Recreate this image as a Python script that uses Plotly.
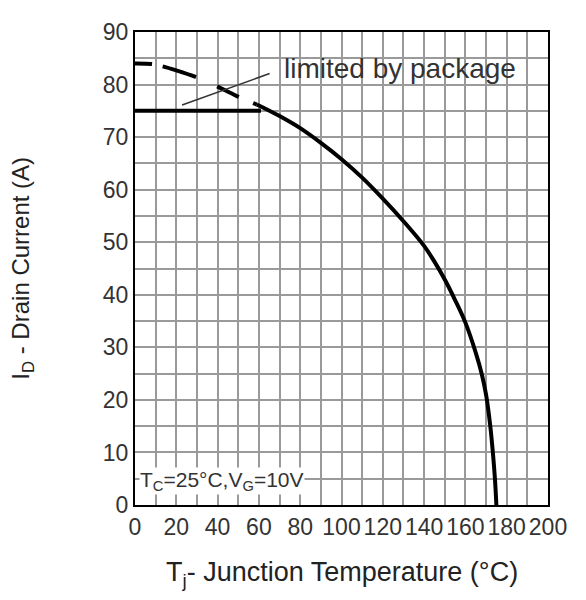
import plotly.graph_objects as go

# Silicon-limited derating curve (dashed part, then solid part)
sil_dash_T = [0, 8, 13, 20, 29, 40, 51, 59]
sil_dash_I = [84, 83.9, 83.5, 82.7, 81.5, 79.6, 77.5, 76.2]
sil_solid_T = [59, 70, 80, 90, 100, 110, 120, 130, 140, 145, 150, 155, 160, 165, 168, 170, 172, 173.3, 174.3, 175]
sil_solid_I = [76.2, 74.0, 71.7, 68.9, 65.8, 62.3, 58.3, 54.0, 49.3, 46.3, 42.9, 39.0, 34.7, 29.0, 24.8, 21.0, 15.2, 10.0, 5.0, 0]

# Package limit
pkg_T = [0, 61]
pkg_I = [75, 75]

# Leader line for the "limited by package" note
lead_T = [22.8, 65.2]
lead_I = [76.1, 82.1]

x_ticks = [0, 20, 40, 60, 80, 100, 120, 140, 160, 180, 200]
y_ticks = [0, 10, 20, 30, 40, 50, 60, 70, 80, 90]

FONT = "Liberation Sans, Arial, sans-serif"

fig = go.Figure()
fig.add_trace(go.Scatter(x=sil_dash_T, y=sil_dash_I, mode="lines",
                         line=dict(color="black", width=4,
                                   dash="17px,11px,35px,23px,24px,16px,300px",
                                   shape="spline", smoothing=1.0),
                         showlegend=False, hoverinfo="skip"))
fig.add_trace(go.Scatter(x=sil_solid_T, y=sil_solid_I, mode="lines",
                         line=dict(color="black", width=4, shape="spline", smoothing=1.0),
                         showlegend=False, hoverinfo="skip"))
fig.add_trace(go.Scatter(x=pkg_T, y=pkg_I, mode="lines",
                         line=dict(color="black", width=4),
                         showlegend=False, hoverinfo="skip"))
fig.add_trace(go.Scatter(x=lead_T, y=lead_I, mode="lines",
                         line=dict(color="#333333", width=1.5),
                         showlegend=False, hoverinfo="skip"))

fig.update_layout(
    width=570, height=584,
    margin=dict(l=127, r=25, t=11, b=87),
    paper_bgcolor="white", plot_bgcolor="white",
    font=dict(family=FONT, size=23, color="#333333"),
    xaxis=dict(range=[0, 200], tickvals=x_ticks, ticktext=[str(v) for v in x_ticks],
               showgrid=True, gridcolor="#9a9a9a", gridwidth=1.5,
               minor=dict(dtick=10, showgrid=True, gridcolor="#9a9a9a", gridwidth=1.5),
               showline=True, linecolor="black", linewidth=2, mirror=True,
               zeroline=False, ticks="", tickfont=dict(size=23, color="#333333")),
    yaxis=dict(range=[0, 90], tickvals=y_ticks, ticktext=[str(v) for v in y_ticks],
               showgrid=True, gridcolor="#9a9a9a", gridwidth=1.5,
               minor=dict(dtick=5, showgrid=True, gridcolor="#9a9a9a", gridwidth=1.5),
               showline=True, linecolor="black", linewidth=2, mirror=True,
               zeroline=False, ticks="", tickfont=dict(size=23, color="#333333")),
)

fig.add_annotation(x=71, y=83, xref="x", yref="y", text="limited by package",
                   showarrow=False, xanchor="left", yanchor="middle",
                   font=dict(family=FONT, size=28, color="#333333"))
fig.add_annotation(x=2, y=4.6, xref="x", yref="y",
                   text="T<sub>C</sub>=25°C,V<sub>G</sub>=10V",
                   showarrow=False, xanchor="left", yanchor="middle",
                   bgcolor="white", borderpad=0,
                   font=dict(family=FONT, size=21, color="#333333"))
fig.add_annotation(x=0.5, y=-0.146, xref="paper", yref="paper",
                   text="T<sub>j</sub>- Junction Temperature (°C)",
                   showarrow=False, xanchor="center", yanchor="middle",
                   font=dict(family=FONT, size=27, color="#222222"))
fig.add_annotation(x=-0.273, y=0.5, xref="paper", yref="paper",
                   text="I<sub>D</sub> - Drain Current (A)", textangle=-90,
                   showarrow=False, xanchor="center", yanchor="middle",
                   font=dict(family=FONT, size=24, color="#222222"))

fig.write_html("out.html")
